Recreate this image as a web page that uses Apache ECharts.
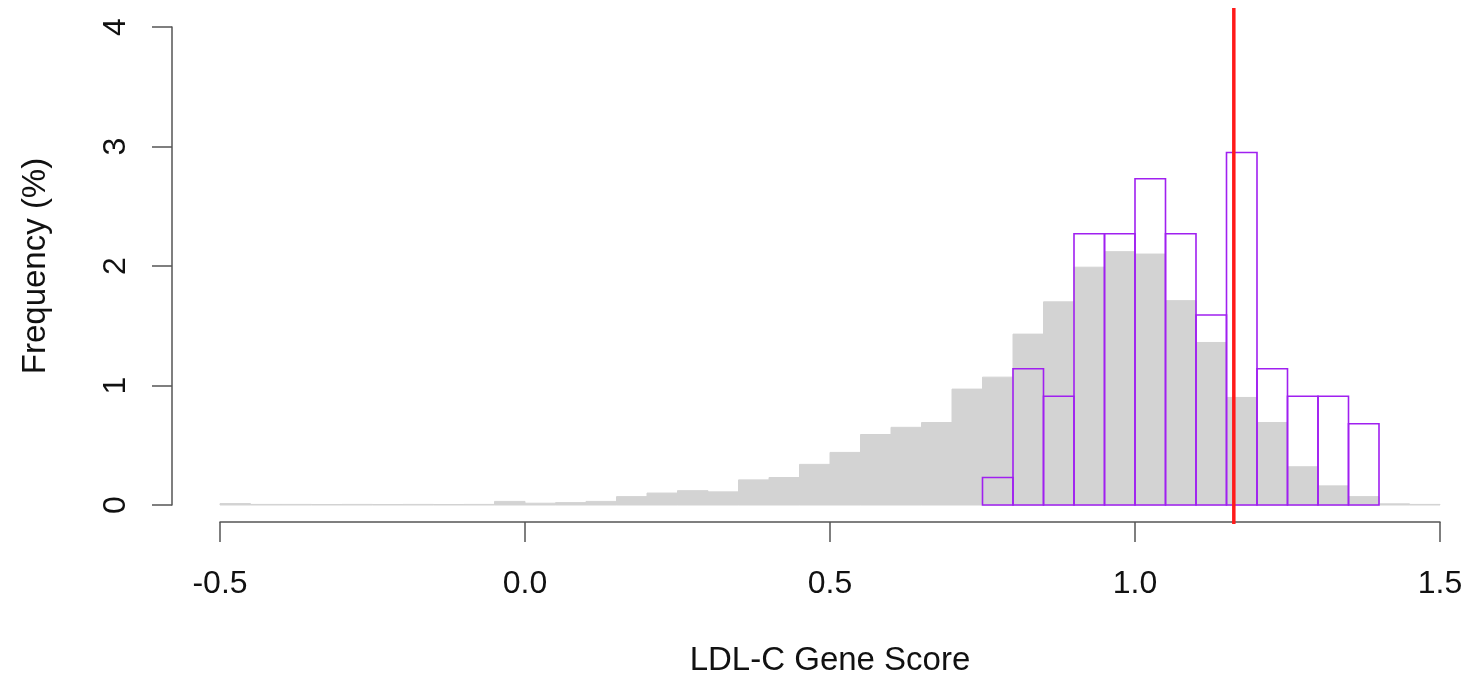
<!DOCTYPE html>
<html>
<head>
<meta charset="utf-8">
<script src="https://cdn.jsdelivr.net/npm/echarts@6/dist/echarts.min.js"></script>
<style>
  html, body { margin: 0; padding: 0; background: #fff; }
  #main { width: 1471px; height: 687px; }
</style>
</head>
<body>
<div id="main"></div>
<script>
// histogram bins: width 0.05 starting at -0.5
var binStart = -0.5;
var binWidth = 0.05;

// all samples (grey), frequency in % per bin
var allFreq = [
    0.012, 0.005, 0.005, 0.004, 0.005, 0.004, 0.005, 0.004, 0.005, 0.03,
    0.015, 0.02, 0.03, 0.07, 0.10, 0.12, 0.11, 0.21, 0.23, 0.34,
    0.44, 0.59, 0.65, 0.69, 0.97, 1.07, 1.43, 1.70, 1.99, 2.12,
    2.10, 1.71, 1.36, 0.90, 0.69, 0.32, 0.16, 0.07, 0.01, 0.005
];

// subgroup (purple outline), first bin starts at 0.75
var subStart = 0.75;
var subFreq = [0.23, 1.14, 0.91, 2.27, 2.27, 2.73, 2.27, 1.59, 2.95, 1.14, 0.91, 0.91, 0.68];

// vertical marker
var markerX = 1.162;

var xTicks = ['-0.5', '0.0', '0.5', '1.0', '1.5'];

function toBins(start, values) {
    return values.map(function (v, i) {
        var a = +(start + i * binWidth).toFixed(4);
        return [a, +(a + binWidth).toFixed(4), v];
    });
}

function histItem(fill, stroke, lw) {
    return function (params, api) {
        var p0 = api.coord([api.value(0), 0]);
        var p1 = api.coord([api.value(1), api.value(2)]);
        return {
            type: 'rect',
            shape: { x: p0[0], y: p1[1], width: p1[0] - p0[0], height: p0[1] - p1[1] },
            style: { fill: fill, stroke: stroke, lineWidth: lw }
        };
    };
}

var chart = echarts.init(document.getElementById('main'));
var option = {
    animation: false,
    grid: { left: 220, right: 31, top: 27, bottom: 182 },
    xAxis: {
        type: 'value',
        min: -0.5,
        max: 1.5,
        interval: 0.5,
        offset: 17,
        name: 'LDL-C Gene Score',
        nameLocation: 'middle',
        nameGap: 122,
        nameTextStyle: { fontFamily: 'Liberation Sans', fontSize: 33, color: '#111' },
        axisLine: { onZero: false, lineStyle: { color: '#555', width: 1.5 } },
        axisTick: { length: 20, lineStyle: { color: '#555', width: 1.5 } },
        axisLabel: {
            margin: 46,
            fontFamily: 'Liberation Sans',
            fontSize: 32,
            color: '#111',
            formatter: function (v) { return xTicks[Math.round((v + 0.5) / 0.5)]; }
        },
        splitLine: { show: false }
    },
    yAxis: {
        type: 'value',
        min: 0,
        max: 4,
        interval: 1,
        offset: 48,
        name: 'Frequency (%)',
        nameLocation: 'middle',
        nameGap: 120,
        nameTextStyle: { fontFamily: 'Liberation Sans', fontSize: 33, color: '#111' },
        axisLine: { show: true, onZero: false, lineStyle: { color: '#555', width: 1.5 } },
        axisTick: { show: true, length: 20, lineStyle: { color: '#555', width: 1.5 } },
        axisLabel: {
            rotate: 90,
            margin: 40,
            fontFamily: 'Liberation Sans',
            fontSize: 32,
            color: '#111'
        },
        splitLine: { show: false }
    },
    series: [
        {
            name: 'all',
            type: 'custom',
            renderItem: histItem('#d3d3d3', '#d3d3d3', 1),
            encode: { x: [0, 1], y: 2 },
            data: toBins(binStart, allFreq)
        },
        {
            name: 'subgroup',
            type: 'custom',
            renderItem: histItem('none', '#a020f0', 1.6),
            encode: { x: [0, 1], y: 2 },
            data: toBins(subStart, subFreq)
        },
        {
            name: 'marker',
            type: 'custom',
            clip: false,
            renderItem: function (params, api) {
                var top = api.coord([api.value(0), 4.16]);
                var bot = api.coord([api.value(0), -0.16]);
                return {
                    type: 'line',
                    shape: { x1: top[0], y1: top[1], x2: bot[0], y2: bot[1] },
                    style: { stroke: '#ff1a1a', lineWidth: 3.5 }
                };
            },
            data: [[markerX]]
        }
    ]
};
chart.setOption(option);
</script>
</body>
</html>
